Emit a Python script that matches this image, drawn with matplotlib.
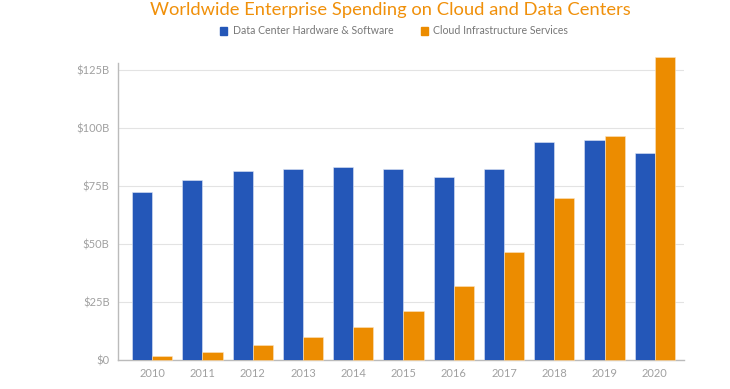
import numpy as np
import matplotlib.pyplot as plt
from matplotlib.patches import Patch
from matplotlib.ticker import FuncFormatter

plt.rcParams['font.family'] = ['Lato', 'DejaVu Sans']

years = ['2010', '2011', '2012', '2013', '2014', '2015', '2016', '2017', '2018', '2019', '2020']
hardware = [72.4, 77.6, 81.5, 82.3, 83.2, 82.3, 78.9, 82.3, 94.0, 94.8, 88.9]
cloud = [1.7, 3.4, 6.5, 9.9, 14.2, 21.1, 31.9, 46.6, 69.8, 96.6, 130.3]

blue = '#2457B8'
orange = '#EC8C00'

fig = plt.figure(figsize=(7.30, 3.89), dpi=100)
ax = fig.add_axes([0.1616, 0.0746, 0.7753, 0.7644])

x = np.arange(len(years))
w = 0.4
ax.bar(x - w / 2, hardware, w, color=blue, edgecolor='#dfe6f5', linewidth=0.4, zorder=3)
ax.bar(x + w / 2, cloud, w, color=orange, edgecolor='#fbe3c0', linewidth=0.4, zorder=3, clip_on=False)

ax.set_xlim(-0.68, 10.58)
ax.set_ylim(0, 128)
ax.set_yticks([0, 25, 50, 75, 100, 125])
ax.yaxis.set_major_formatter(FuncFormatter(lambda v, p: '$0' if v == 0 else f'${int(v)}B'))
ax.set_xticks(x)
ax.set_xticklabels(years)
ax.grid(axis='y', color='#e3e3e3', linewidth=0.8, zorder=0)
ax.tick_params(axis='both', length=0, colors='#a0a0a0', labelsize=8)
ax.tick_params(axis='x', pad=6)
ax.tick_params(axis='y', pad=6)

for s in ['top', 'right']:
    ax.spines[s].set_visible(False)
for s in ['left', 'bottom']:
    ax.spines[s].set_color('#bbbbbb')
    ax.spines[s].set_linewidth(1)

fig.text(390 / 730, 1 - 10 / 389, 'Worldwide Enterprise Spending on Cloud and Data Centers',
         ha='center', va='center', color='#F0900A', fontsize=13.2)

handles = [Patch(color=blue), Patch(color=orange)]
fig.legend(handles, ['Data Center Hardware & Software', 'Cloud Infrastructure Services'],
           loc='center', bbox_to_anchor=(394 / 730, 1 - 31 / 389), ncol=2, frameon=False,
           fontsize=7.6, handlelength=0.7, handleheight=0.7, columnspacing=2.6, handletextpad=0.5,
           labelcolor='#777777')

fig.savefig('out.png', dpi=100)
